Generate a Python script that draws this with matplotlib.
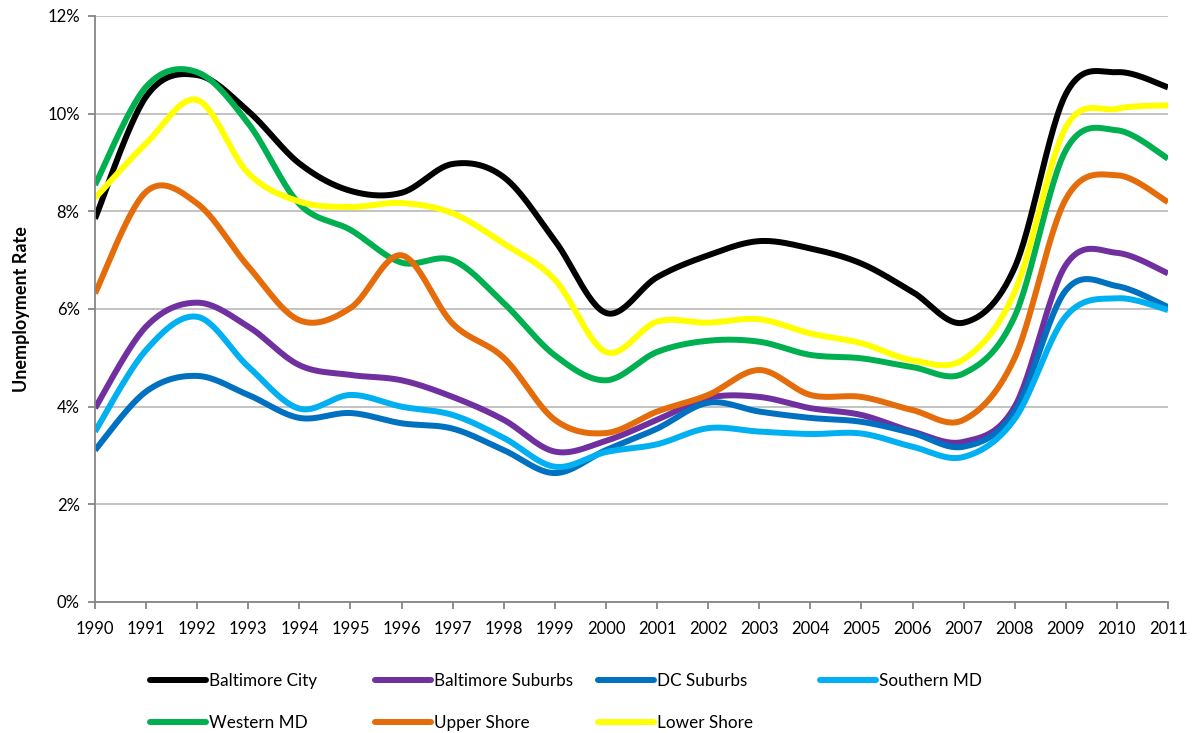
import numpy as np
import matplotlib
matplotlib.use("Agg")
import matplotlib.pyplot as plt
from matplotlib.lines import Line2D

years = list(range(1990, 2012))

baltimore_city = [7.85, 10.35, 10.79, 10.05, 8.98, 8.42, 8.38, 8.97, 8.7, 7.4, 5.92, 6.65, 7.1, 7.39, 7.24, 6.93, 6.35, 5.72, 6.85, 10.4, 10.85, 10.54]
baltimore_suburbs = [3.97, 5.64, 6.13, 5.64, 4.85, 4.65, 4.54, 4.2, 3.73, 3.08, 3.3, 3.73, 4.18, 4.2, 3.97, 3.83, 3.49, 3.28, 4.0, 6.9, 7.15, 6.73]
dc_suburbs = [3.11, 4.31, 4.63, 4.24, 3.77, 3.87, 3.66, 3.55, 3.11, 2.64, 3.11, 3.55, 4.08, 3.9, 3.77, 3.69, 3.46, 3.18, 3.9, 6.38, 6.47, 6.04]
southern_md = [3.49, 5.16, 5.84, 4.82, 3.96, 4.24, 4.0, 3.83, 3.36, 2.77, 3.07, 3.23, 3.56, 3.49, 3.44, 3.45, 3.18, 2.97, 3.75, 5.85, 6.22, 5.98]
western_md = [8.54, 10.55, 10.85, 9.8, 8.15, 7.62, 6.95, 7.0, 6.12, 5.05, 4.54, 5.12, 5.35, 5.33, 5.06, 4.99, 4.81, 4.68, 5.85, 9.25, 9.66, 9.08]
upper_shore = [6.32, 8.4, 8.16, 6.87, 5.77, 6.02, 7.1, 5.7, 5.0, 3.73, 3.46, 3.9, 4.24, 4.75, 4.24, 4.2, 3.93, 3.73, 5.0, 8.25, 8.74, 8.19]
lower_shore = [8.27, 9.39, 10.28, 8.78, 8.2, 8.09, 8.17, 7.96, 7.34, 6.6, 5.12, 5.74, 5.72, 5.79, 5.5, 5.3, 4.95, 4.97, 6.35, 9.72, 10.1, 10.17]

series_names = ["Baltimore City", "Baltimore Suburbs", "DC Suburbs", "Southern MD",
                "Western MD", "Upper Shore", "Lower Shore"]
series_values = [baltimore_city, baltimore_suburbs, dc_suburbs, southern_md,
                 western_md, upper_shore, lower_shore]
series_colors = ["#000000", "#7030A0", "#0070C0", "#00B0F0", "#00B050", "#E46C0A", "#FFFF00"]

y_ticks = [0, 2, 4, 6, 8, 10, 12]
y_tick_labels = ["0%", "2%", "4%", "6%", "8%", "10%", "12%"]


def smooth(xs, ys, n=30):
    xs = np.asarray(xs, float)
    ys = np.asarray(ys, float)
    P = np.column_stack([xs, ys])
    Pext = np.vstack([P[0], P, P[-1]])
    out = []
    t = np.linspace(0, 1, n)[:, None]
    for i in range(len(P) - 1):
        p0 = Pext[i + 1]
        p3 = Pext[i + 2]
        c1 = p0 + (Pext[i + 2] - Pext[i]) / 6.0
        c2 = p3 - (Pext[i + 3] - Pext[i + 1]) / 6.0
        seg = ((1 - t) ** 3) * p0 + 3 * ((1 - t) ** 2) * t * c1 + 3 * (1 - t) * t ** 2 * c2 + t ** 3 * p3
        if i > 0:
            seg = seg[1:]
        out.append(seg)
    out = np.vstack(out)
    return out[:, 0], out[:, 1]


plt.rcParams['font.family'] = ['Lato', 'DejaVu Sans']

fig = plt.figure(figsize=(11.97, 7.33), dpi=100)
ax = fig.add_axes([95 / 1197, 1 - 602 / 733, (1168 - 95) / 1197, (602 - 16) / 733])

x_idx = np.arange(len(years))
handles = []
for name, vals, col in zip(series_names, series_values, series_colors):
    sx, sy = smooth(x_idx, vals)
    ax.plot(sx, sy, color=col, lw=4.3, solid_capstyle='butt', solid_joinstyle='round', label=name)
    handles.append(Line2D([0], [0], color=col, lw=4.3, solid_capstyle='round'))

ax.set_xlim(0, len(years) - 1)
ax.set_ylim(0, 12)
ax.set_xticks(x_idx)
ax.set_xticklabels([str(y) for y in years])
ax.set_yticks(y_ticks)
ax.set_yticklabels(y_tick_labels)
ax.yaxis.grid(True, color="#BEBEBE", lw=1.3)
ax.set_axisbelow(True)
for s in ["top", "right"]:
    ax.spines[s].set_visible(False)
for s in ["left", "bottom"]:
    ax.spines[s].set_color("#868686")
    ax.spines[s].set_linewidth(1.3)
ax.tick_params(axis='both', colors="#868686", width=1.3, length=5, labelsize=12, labelcolor="black")
ax.tick_params(axis='x', pad=9)
ax.tick_params(axis='y', pad=6)
ax.set_ylabel("Unemployment Rate", fontsize=13, fontweight='bold', labelpad=12)

col_x = [150, 375, 598, 820]
columns = [[0, 4], [1, 5], [2, 6], [3]]
for cx, idxs in zip(col_x, columns):
    fig.legend([handles[i] for i in idxs], [series_names[i] for i in idxs],
               loc='upper left', bbox_to_anchor=(cx / 1197, 1 - 673 / 733),
               frameon=False, fontsize=12.3, handlelength=3.3, handletextpad=0.15,
               labelspacing=1.5, borderpad=0, borderaxespad=0)

fig.savefig("out.png", dpi=100)
